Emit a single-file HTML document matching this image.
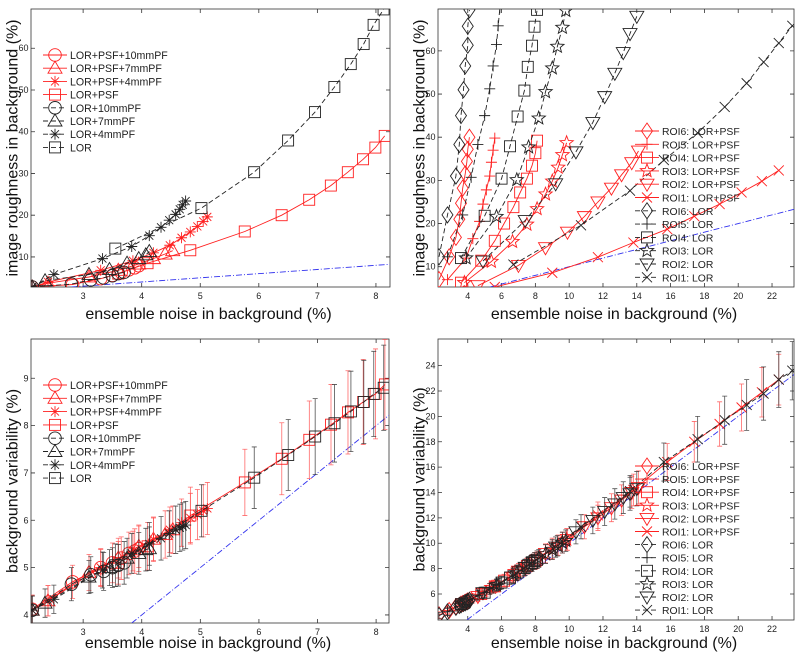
<!DOCTYPE html>
<html><head><meta charset="utf-8"><style>
html,body{margin:0;padding:0;background:#fff;}
svg{display:block;font-family:"Liberation Sans",sans-serif;}
</style></head><body>
<svg id="fig" width="800" height="655" viewBox="0 0 800 655" xmlns="http://www.w3.org/2000/svg"></svg>
<script>
// ---------- Panel TL: image roughness vs ensemble noise (filters) ----------
const tl_psf10_x=[2.13,2.82,3.3,3.5,3.65,3.78,3.88,3.95];
const tl_psf10_y=[2.8,3.4,4.8,5.6,6.3,6.9,7.4,7.9];
const tl_psf7_x=[2.13,2.4,3.1,3.6,3.95,4.2,4.4,4.53];
const tl_psf7_y=[2.8,3.7,5.2,6.8,8.3,9.6,10.7,11.5];
const tl_psf4_x=[2.13,2.4,3.3,3.85,4.2,4.48,4.68,4.83,4.95,5.05,5.12];
const tl_psf4_y=[2.8,4.0,6.8,9.1,11.0,12.8,14.6,16.0,17.3,18.5,19.6];
const tl_psf_x=[3.6,4.1,4.83,5.76,6.39,6.86,7.23,7.52,7.78,7.99,8.15];
const tl_psf_y=[6.0,8.5,11.6,16.1,20.0,23.7,27.1,30.3,33.4,36.2,39.0];
const tl_l10_x=[2.13,2.8,3.13,3.35,3.5,3.6,3.7];
const tl_l10_y=[2.8,3.5,4.5,5.0,5.5,6.0,6.3];
const tl_l7_x=[2.13,2.35,3.1,3.45,3.75,3.95,4.07,4.13];
const tl_l7_y=[2.8,4.3,5.8,7.0,8.5,9.6,10.5,11.3];
const tl_l4_x=[2.13,2.5,3.33,3.83,4.13,4.33,4.47,4.58,4.65,4.7,4.75];
const tl_l4_y=[2.8,5.8,9.6,12.5,15.1,17.1,18.8,20.2,21.4,22.5,23.4];
const tl_l_x=[3.55,5.02,5.92,6.5,6.96,7.29,7.57,7.79,7.96,8.13];
const tl_l_y=[12.0,21.7,30.3,37.9,44.7,50.7,56.2,61.0,65.6,69.3];
// ---------- Panel BL: background variability (filters) ----------
const bl_psf10_y=[4.12,4.7,5.0,5.1,5.2,5.3,5.35,5.4];
const bl_psf10_e=[0.3,0.35,0.4,0.42,0.45,0.45,0.47,0.48];
const bl_psf7_y=[4.1,4.3,4.9,5.2,5.45,5.6,5.7,5.8];
const bl_psf7_e=[0.3,0.32,0.38,0.42,0.45,0.47,0.5,0.5];
const bl_psf4_y=[4.1,4.3,5.0,5.35,5.6,5.8,5.95,6.05,6.12,6.2,6.25];
const bl_psf4_e=[0.3,0.32,0.38,0.42,0.45,0.48,0.5,0.52,0.53,0.55,0.55];
const bl_psf_y=[5.1,5.45,6.1,6.8,7.3,7.7,8.02,8.28,8.5,8.67,8.87];
const bl_psf_e=[0.45,0.5,0.6,0.7,0.76,0.82,0.85,0.88,0.9,0.95,0.95];
const bl_l10_y=[4.1,4.65,4.85,4.92,5.0,5.05,5.1];
const bl_l10_e=[0.3,0.35,0.38,0.4,0.42,0.44,0.45];
const bl_l7_y=[4.1,4.25,4.8,5.0,5.2,5.3,5.38,5.4];
const bl_l7_e=[0.3,0.3,0.35,0.38,0.42,0.44,0.45,0.46];
const bl_l4_y=[4.1,4.33,4.95,5.3,5.5,5.62,5.72,5.8,5.84,5.87,5.9];
const bl_l4_e=[0.3,0.3,0.38,0.42,0.45,0.46,0.48,0.5,0.5,0.5,0.5];
const bl_l_y=[5.05,6.2,6.9,7.38,7.77,8.05,8.3,8.5,8.67,8.8];
const bl_l_e=[0.45,0.55,0.65,0.75,0.8,0.82,0.85,0.88,0.9,0.9];
// ---------- Panel TR: image roughness vs noise (ROIs) ----------
const tr_p6_x=[2.3,2.9,3.3,3.5,3.6,3.7,3.85,3.95,4.0,4.1];
const tr_p6_y=[7.0,12.3,16.8,21.0,24.7,28.2,31.5,34.4,37.2,40.0];
const tr_p5_x=[2.8,3.9,4.3,4.7,4.9,5.1,5.3,5.4,5.5,5.6];
const tr_p5_y=[7.0,12.0,16.5,20.5,24.5,27.8,31.0,34.2,37.0,39.8];
const tr_p4_x=[3.6,4.8,5.6,6.15,6.7,7.1,7.5,7.8,8.0,8.1];
const tr_p4_y=[6.3,11.4,16.0,20.0,23.8,27.2,30.4,33.4,36.3,39.2];
const tr_p3_x=[3.8,5.4,6.65,7.5,8.1,8.6,9.0,9.35,9.6,9.85];
const tr_p3_y=[6.3,11.2,15.8,19.8,23.4,26.8,29.8,33.0,35.9,38.7];
const tr_p2_x=[4.6,7.0,8.6,9.9,10.9,11.7,12.5,13.1,13.7,14.1];
const tr_p2_y=[5.6,10.3,14.4,18.0,21.6,25.0,28.2,31.3,34.1,36.8];
const tr_p1_x=[5.6,9.0,11.7,13.8,15.8,17.4,18.9,20.2,21.4,22.4];
const tr_p1_y=[5.3,8.6,12.2,15.6,18.7,21.7,24.5,27.2,29.8,32.3];
const tr_l6_x=[2.3,2.8,3.3,3.5,3.6,3.75,3.85,4.0,4.0,4.1];
const tr_l6_y=[12.3,22.0,31.0,38.3,45.0,51.0,56.5,61.3,65.7,69.5];
const tr_l5_x=[2.8,3.7,4.2,4.6,5.0,5.3,5.5,5.7,5.8,5.9];
const tr_l5_y=[12.3,22.0,30.7,38.3,45.0,51.2,56.5,61.5,65.8,70.0];
const tr_l4_x=[3.6,5.0,6.0,6.5,6.95,7.35,7.55,7.8,7.95,8.1];
const tr_l4_y=[12.0,21.8,30.4,37.9,44.8,50.8,56.3,61.2,65.6,69.5];
const tr_l3_x=[3.9,5.7,6.9,7.6,8.2,8.6,9.0,9.3,9.6,9.8];
const tr_l3_y=[12.0,21.6,30.1,37.7,44.4,50.5,56.0,61.0,65.4,69.3];
const tr_l2_x=[4.9,7.4,9.2,10.4,11.4,12.1,12.7,13.2,13.6,14.0];
const tr_l2_y=[11.3,20.7,29.2,36.6,43.4,49.4,54.8,59.6,64.0,68.0];
const tr_l1_x=[6.7,10.7,13.6,15.6,17.6,19.2,20.5,21.5,22.4,23.2];
const tr_l1_y=[10.5,19.6,27.6,34.7,41.0,47.0,52.5,57.4,61.8,65.8];
// ---------- Panel BR: background variability (ROIs) ----------
const br_p6_y=[4.35,4.7,5.0,5.1,5.2,5.25,5.35,5.4,5.45,5.5];
const br_p6_e=[0.25,0.28,0.3,0.3,0.32,0.32,0.33,0.34,0.34,0.35];
const br_p5_y=[4.7,5.35,5.65,5.95,6.1,6.25,6.4,6.5,6.55,6.6];
const br_p5_e=[0.28,0.33,0.36,0.38,0.4,0.42,0.43,0.44,0.45,0.45];
const br_p4_y=[5.2,6.0,6.6,7.05,7.5,7.85,8.2,8.45,8.6,8.7];
const br_p4_e=[0.33,0.4,0.45,0.5,0.55,0.58,0.62,0.65,0.67,0.68];
const br_p3_y=[5.35,6.5,7.5,8.2,8.7,9.15,9.5,9.85,10.05,10.3];
const br_p3_e=[0.34,0.45,0.55,0.62,0.68,0.72,0.76,0.8,0.82,0.85];
const br_p2_y=[5.8,7.8,9.2,10.3,11.3,12.0,12.8,13.4,14.0,14.4];
const br_p2_e=[0.4,0.6,0.75,0.85,0.95,1.0,1.1,1.2,1.25,1.3];
const br_p1_y=[6.6,9.6,12.2,14.2,16.4,18.0,19.4,20.7,21.9,22.9];
const br_p1_e=[0.5,0.8,1.05,1.25,1.45,1.6,1.75,1.85,1.95,2.0];
const br_l6_y=[4.3,4.6,4.95,5.1,5.15,5.25,5.3,5.4,5.4,5.5];
const br_l6_e=[0.25,0.28,0.3,0.3,0.32,0.32,0.33,0.34,0.34,0.35];
const br_l5_y=[4.6,5.2,5.6,5.9,6.1,6.4,6.5,6.7,6.75,6.8];
const br_l5_e=[0.28,0.33,0.36,0.38,0.4,0.42,0.43,0.44,0.45,0.45];
const br_l4_y=[5.2,6.1,6.9,7.3,7.7,8.05,8.25,8.45,8.6,8.7];
const br_l4_e=[0.33,0.4,0.5,0.55,0.58,0.62,0.65,0.67,0.68,0.7];
const br_l3_y=[5.4,6.7,7.65,8.3,8.8,9.15,9.5,9.8,10.05,10.2];
const br_l3_e=[0.34,0.48,0.58,0.65,0.7,0.74,0.78,0.8,0.82,0.85];
const br_l2_y=[6.1,8.1,9.7,10.9,11.8,12.5,13.1,13.6,13.9,14.3];
const br_l2_e=[0.45,0.65,0.8,0.95,1.05,1.1,1.2,1.25,1.3,1.35];
const br_l1_y=[7.4,11.3,14.1,16.4,18.2,19.7,20.9,21.8,22.9,23.6];
const br_l1_e=[0.6,0.95,1.25,1.5,1.8,1.9,2.0,2.1,2.2,2.3];
// tick labels
const xt_filters=[3,4,5,6,7,8];
const xt_rois=[4,6,8,10,12,14,16,18,20,22];
const yt_rough=[10,20,30,40,50,60];
const yt_var_f=[4,5,6,7,8,9];
const yt_var_r=[6,8,10,12,14,16,18,20,22,24];
const lab_filters=["LOR+PSF+10mmPF","LOR+PSF+7mmPF","LOR+PSF+4mmPF","LOR+PSF","LOR+10mmPF","LOR+7mmPF","LOR+4mmPF","LOR"];
const lab_rois=["ROI6: LOR+PSF","ROI5: LOR+PSF","ROI4: LOR+PSF","ROI3: LOR+PSF","ROI2: LOR+PSF","ROI1: LOR+PSF","ROI6: LOR","ROI5: LOR","ROI4: LOR","ROI3: LOR","ROI2: LOR","ROI1: LOR"];

const NS="http://www.w3.org/2000/svg";
const fig=document.getElementById('fig');
function el(tag,attrs,parent){const e=document.createElementNS(NS,tag);for(const k in attrs)e.setAttribute(k,attrs[k]);(parent||fig).appendChild(e);return e;}
const RED="#ff2020",BLK="#222";
function marker(g,type,cx,cy,col){
  const a={fill:'none',stroke:col,'stroke-width':0.9};
  let m;
  if(type==='o'){m=el('circle',Object.assign({cx,cy,r:6.3},a),g);}
  else if(type==='s'){m=el('rect',Object.assign({x:cx-5.5,y:cy-5.5,width:11,height:11},a),g);}
  else if(type==='^'){m=el('polygon',Object.assign({points:`${cx},${cy-7} ${cx-7},${cy+5} ${cx+7},${cy+5}`},a),g);}
  else if(type==='v'){m=el('polygon',Object.assign({points:`${cx},${cy+7} ${cx-7},${cy-5} ${cx+7},${cy-5}`},a),g);}
  else if(type==='d'){m=el('polygon',Object.assign({points:`${cx},${cy-8} ${cx+5.5},${cy} ${cx},${cy+8} ${cx-5.5},${cy}`},a),g);}
  else if(type==='p'){let p=[];for(let i=0;i<10;i++){const r=i%2?3:7,an=-Math.PI/2+i*Math.PI/5;p.push((cx+r*Math.cos(an)).toFixed(1)+','+(cy+r*Math.sin(an)).toFixed(1));}m=el('polygon',Object.assign({points:p.join(' ')},a),g);}
  else {let d='';const s=5.5;
    if(type==='+'||type==='*')d+=`M${cx-s},${cy}H${cx+s}M${cx},${cy-s}V${cy+s}`;
    if(type==='x'||type==='*'){const t=type==='*'?4:5;d+=`M${cx-t},${cy-t}L${cx+t},${cy+t}M${cx-t},${cy+t}L${cx+t},${cy-t}`;}
    m=el('path',Object.assign({d},a),g);}
  
  
}
function panel(cfg){
  const {L,R,T,B,xmin,xmax,ymin,ymax}=cfg;
  const sx=v=>L+(v-xmin)/(xmax-xmin)*(R-L), sy=v=>B-(v-ymin)/(ymax-ymin)*(B-T);
  const g=el('g',{});
  
  
  const cid='clip'+cfg.name;
  const cp=el('clipPath',{id:cid},g);el('rect',{x:L,y:T,width:R-L,height:B-T},cp);
  const box=el('rect',{x:L,y:T,width:R-L,height:B-T,fill:'#fff',stroke:'#333','stroke-width':0.8},g);
  
  
  cfg.xt.forEach(v=>{const x=sx(v);
    el('path',{d:`M${x},${B}v-4M${x},${T}v4`,stroke:'#333','stroke-width':0.8},g);
    const t=el('text',{x,y:B+12,'font-size':9,'text-anchor':'middle',fill:'#222'},g);t.textContent=v;
    
    });
  cfg.yt.forEach(v=>{const y=sy(v);
    el('path',{d:`M${L},${y}h4M${R},${y}h-4`,stroke:'#333','stroke-width':0.8},g);
    const t=el('text',{x:L-2.5,y:y+3,'font-size':9,'text-anchor':'end',fill:'#222'},g);t.textContent=v;
    
    });
  const xl=el('text',{x:(L+R)/2-2,y:B+cfg.xlOff,'font-size':16,'text-anchor':'middle',fill:'#111'},g);xl.textContent=cfg.xlabel;
  
  
  const ycx=L-13.5,ycy=(T+B)/2;
  const yl=el('text',{x:ycx,y:ycy,'font-size':16,'text-anchor':'middle',fill:'#111',transform:`rotate(-90 ${ycx} ${ycy})`},g);yl.textContent=cfg.ylabel;
  
  
  const pg=el('g',{'clip-path':`url(#${cid})`},g);
  const lo=Math.max(xmin,ymin),hi=Math.min(xmax,ymax);
  const idl=el('line',{x1:sx(lo),y1:sy(lo),x2:sx(hi),y2:sy(hi),stroke:'#3333ee','stroke-width':0.9,'stroke-dasharray':'6,2,1,2'},pg);
  
  
  cfg.series.forEach(s=>{
    const sg=el('g',{},pg);
    
    
    const col=s.red?RED:BLK;
    if(s.e){s.x.forEach((xv,i)=>{const x=sx(xv),y1=sy(s.y[i]-s.e[i]),y2=sy(s.y[i]+s.e[i]);
      el('path',{d:`M${x},${y1}V${y2}M${x-2.5},${y1}h5M${x-2.5},${y2}h5`,stroke:s.red?'#ff5050':'#333','stroke-width':0.8,opacity:0.85},sg);});}
    const pts=s.x.map((v,i)=>sx(v).toFixed(1)+','+sy(s.y[i]).toFixed(1)).join(' ');
    el('polyline',{points:pts,fill:'none',stroke:col,'stroke-width':0.9,'stroke-dasharray':s.red?'none':'5,3'},sg);
    s.x.forEach((v,i)=>marker(sg,s.m,sx(v),sy(s.y[i]),col));
  });
  const lg=el('g',{},g);
  
  
  cfg.series.forEach((s,i)=>{
    const y=cfg.legY+i*cfg.legDy;const col=s.red?RED:BLK;
    const eg=el('g',{},lg);
    
    
    el('line',{x1:cfg.legX,y1:y,x2:cfg.legX+24,y2:y,stroke:col,'stroke-width':0.9,'stroke-dasharray':s.red?'none':'5,3'},eg);
    marker(eg,s.m,cfg.legX+12,y,col);
    const t=el('text',{x:cfg.legX+27,y:y+4,'font-size':cfg.legFs,fill:'#222'},eg);t.textContent=s.label;
  });
}
const fm=['o','^','*','s'];
function fSeries(xs,ys,es){return lab_filters.map((lab,i)=>({label:lab,red:i<4,m:fm[i%4],x:xs[i],y:ys[i],e:es?es[i]:null}));}
const fX=[tl_psf10_x,tl_psf7_x,tl_psf4_x,tl_psf_x,tl_l10_x,tl_l7_x,tl_l4_x,tl_l_x];
const rm=['d','+','s','p','v','x'];
function rSeries(xs,ys,es){return lab_rois.map((lab,i)=>({label:lab,red:i<6,m:rm[i%6],x:xs[i],y:ys[i],e:es?es[i]:null}));}
const rX=[tr_p6_x,tr_p5_x,tr_p4_x,tr_p3_x,tr_p2_x,tr_p1_x,tr_l6_x,tr_l5_x,tr_l4_x,tr_l3_x,tr_l2_x,tr_l1_x];
const XL="ensemble noise in background (%)";
panel({name:'roughness-filters',L:31,R:390,T:9,B:287,xmin:2.11,xmax:8.24,ymin:2.8,ymax:69.4,xt:xt_filters,yt:yt_rough,xlabel:XL,xlOff:32,ylabel:"image roughness in background (%)",legX:43,legY:55,legDy:13.2,legFs:10.6,
  series:fSeries(fX,[tl_psf10_y,tl_psf7_y,tl_psf4_y,tl_psf_y,tl_l10_y,tl_l7_y,tl_l4_y,tl_l_y])});
panel({name:'roughness-rois',L:438,R:794,T:9,B:287,xmin:2.24,xmax:23.3,ymin:5.3,ymax:69.7,xt:xt_rois,yt:yt_rough,xlabel:XL,xlOff:32,ylabel:"image roughness in background (%)",legX:635,legY:131,legDy:13.3,legFs:10.4,
  series:rSeries(rX,[tr_p6_y,tr_p5_y,tr_p4_y,tr_p3_y,tr_p2_y,tr_p1_y,tr_l6_y,tr_l5_y,tr_l4_y,tr_l3_y,tr_l2_y,tr_l1_y])});
panel({name:'variability-filters',L:31,R:389,T:339,B:623,xmin:2.11,xmax:8.22,ymin:3.83,ymax:9.83,xt:xt_filters,yt:yt_var_f,xlabel:XL,xlOff:25,ylabel:"background variability (%)",legX:43,legY:385,legDy:13.3,legFs:10.6,
  series:fSeries(fX,[bl_psf10_y,bl_psf7_y,bl_psf4_y,bl_psf_y,bl_l10_y,bl_l7_y,bl_l4_y,bl_l_y],[bl_psf10_e,bl_psf7_e,bl_psf4_e,bl_psf_e,bl_l10_e,bl_l7_e,bl_l4_e,bl_l_e])});
panel({name:'variability-rois',L:438,R:794,T:339,B:620,xmin:2.24,xmax:23.3,ymin:3.95,ymax:26.1,xt:xt_rois,yt:yt_var_r,xlabel:XL,xlOff:28,ylabel:"background variability (%)",legX:635,legY:466,legDy:13.1,legFs:10.4,
  series:rSeries(rX,[br_p6_y,br_p5_y,br_p4_y,br_p3_y,br_p2_y,br_p1_y,br_l6_y,br_l5_y,br_l4_y,br_l3_y,br_l2_y,br_l1_y],[br_p6_e,br_p5_e,br_p4_e,br_p3_e,br_p2_e,br_p1_e,br_l6_e,br_l5_e,br_l4_e,br_l3_e,br_l2_e,br_l1_e])});
</script>
</body></html>
